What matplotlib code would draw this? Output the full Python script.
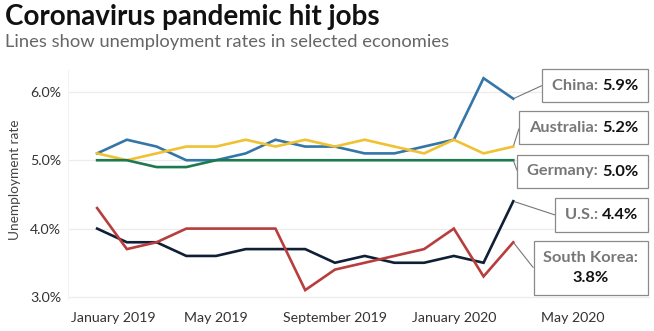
import matplotlib
matplotlib.use("Agg")
import matplotlib.pyplot as plt
import matplotlib.transforms as mtransforms
from matplotlib.offsetbox import AnnotationBbox, HPacker, VPacker, TextArea

plt.rcParams["font.family"] = ["Lato", "DejaVu Sans"]

# monthly unemployment rates, January 2019 .. March 2020
MONTHS = list(range(15))
CHINA = [5.1, 5.3, 5.2, 5.0, 5.0, 5.1, 5.3, 5.2, 5.2, 5.1, 5.1, 5.2, 5.3, 6.2, 5.9]
AUSTRALIA = [5.1, 5.0, 5.1, 5.2, 5.2, 5.3, 5.2, 5.3, 5.2, 5.3, 5.2, 5.1, 5.3, 5.1, 5.2]
GERMANY = [5.0, 5.0, 4.9, 4.9, 5.0, 5.0, 5.0, 5.0, 5.0, 5.0, 5.0, 5.0, 5.0, 5.0, 5.0]
US = [4.0, 3.8, 3.8, 3.6, 3.6, 3.7, 3.7, 3.7, 3.5, 3.6, 3.5, 3.5, 3.6, 3.5, 4.4]
SOUTH_KOREA = [4.3, 3.7, 3.8, 4.0, 4.0, 4.0, 4.0, 3.1, 3.4, 3.5, 3.6, 3.7, 4.0, 3.3, 3.8]

XTICKS = [0, 4, 8, 12, 16]
XTICK_LABELS = ["January 2019", "May 2019", "September 2019", "January 2020", "May 2020"]
YTICKS = [3.0, 4.0, 5.0, 6.0]
YTICK_LABELS = ["3.0%", "4.0%", "5.0%", "6.0%"]

SERIES = [
    ("China", CHINA, "#3476a8"),
    ("Australia", AUSTRALIA, "#f0c132"),
    ("Germany", GERMANY, "#1d7a50"),
    ("U.S.", US, "#0f1f36"),
    ("South Korea", SOUTH_KOREA, "#b83d3d"),
]
# callout box centre heights in pixels from the top
BOX_Y = {"China": 85.5, "Australia": 127.5, "Germany": 171.5, "U.S.": 215, "South Korea": 268}

W, H, DPI = 654, 331, 100
fig = plt.figure(figsize=(W / DPI, H / DPI), dpi=DPI)
ax = fig.add_axes([68 / W, 1 - 299 / H, (650 - 68) / W, (299 - 70) / H])

for name, values, color in SERIES:
    ax.plot(MONTHS, values, color=color, lw=1.9, solid_joinstyle="miter", zorder=3)

ax.set_xlim(-0.98, 18.6)
ax.set_ylim(2.97, 6.32)
ax.set_xticks(XTICKS, XTICK_LABELS)
ax.set_yticks(YTICKS, YTICK_LABELS)
ax.tick_params(length=0, labelsize=10.2, labelcolor="#333333")
ax.tick_params(axis="x", pad=9)
ax.tick_params(axis="y", pad=5)
ax.grid(axis="y", color="#ececec", lw=0.9)
ax.set_axisbelow(True)
for side in ["top", "right", "bottom"]:
    ax.spines[side].set_visible(False)
ax.spines["left"].set_color("#f3f3f3")

# keep the first month label inside the chart
first = ax.get_xticklabels()[0]
first.set_transform(first.get_transform() + mtransforms.ScaledTranslation(16 / DPI, 0, fig.dpi_scale_trans))

fig.text(5 / W, 1 - 4 / H, "Coronavirus pandemic hit jobs", fontsize=20, fontweight="bold",
         color="#111111", ha="left", va="top")
fig.text(5 / W, 1 - 34 / H, "Lines show unemployment rates in selected economies", fontsize=13.2,
         color="#666666", ha="left", va="top")
fig.text(15 / W, 1 - 180 / H, "Unemployment rate", rotation=90, fontsize=9.8, color="#444444",
         ha="center", va="center")

label_props = dict(color="#777777", fontweight="bold", fontsize=11.8)
value_props = dict(color="#111111", fontweight="bold", fontsize=11.8)

for name, values, color in SERIES:
    value = f"{values[-1]:.1f}%"
    if name == "South Korea":
        content = VPacker(children=[TextArea(name + ":", textprops=label_props),
                                    TextArea(value, textprops=value_props)],
                          align="center", pad=7, sep=5)
    else:
        content = HPacker(children=[TextArea(name + ": ", textprops=label_props),
                                    TextArea(value, textprops=value_props)],
                          align="baseline", pad=7, sep=0)
    ab = AnnotationBbox(content, (MONTHS[-1], values[-1]), xycoords="data",
                        xybox=(648, H - BOX_Y[name]), boxcoords="figure pixels",
                        box_alignment=(1, 0.5), pad=0,
                        bboxprops=dict(edgecolor="#8a8a8a", facecolor="white", lw=0.9),
                        arrowprops=dict(arrowstyle="-", color="#777777", lw=0.8,
                                        relpos=(0, 0.5), shrinkA=0, shrinkB=1))
    ab.set_zorder(5)
    ax.add_artist(ab)
    ab.set_clip_on(False)

fig.savefig("out.png", dpi=DPI)
